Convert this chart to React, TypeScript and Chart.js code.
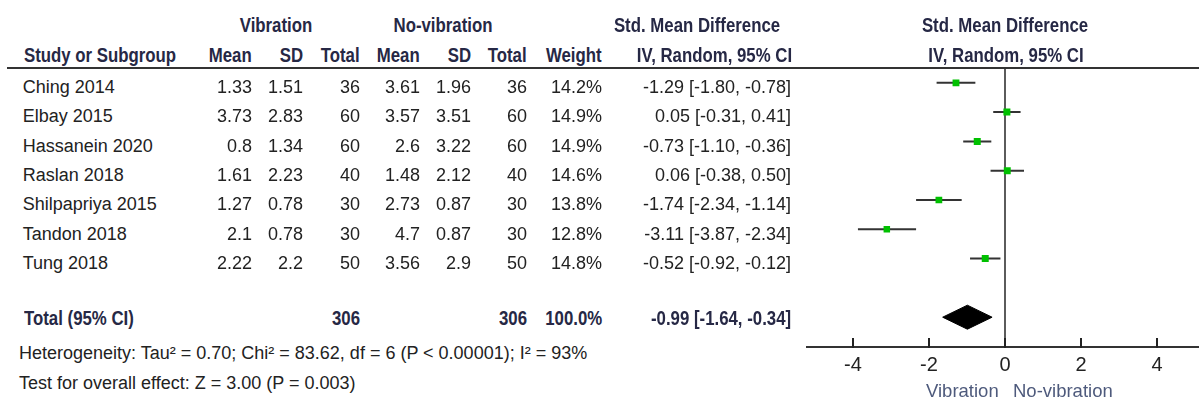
import React, { useEffect, useRef } from 'react';
import { Chart, registerables } from 'chart.js';

Chart.register(...registerables);

// ---------- data ----------
const studies = ['Ching 2014', 'Elbay 2015', 'Hassanein 2020', 'Raslan 2018', 'Shilpapriya 2015', 'Tandon 2018', 'Tung 2018'];
const vibMean = [1.33, 3.73, 0.8, 1.61, 1.27, 2.1, 2.22];
const vibSD = [1.51, 2.83, 1.34, 2.23, 0.78, 0.78, 2.2];
const vibTotal = [36, 60, 60, 40, 30, 30, 50];
const noMean = [3.61, 3.57, 2.6, 1.48, 2.73, 4.7, 3.56];
const noSD = [1.96, 3.51, 3.22, 2.12, 0.87, 0.87, 2.9];
const noTotal = [36, 60, 60, 40, 30, 30, 50];
const weights = [14.2, 14.9, 14.9, 14.6, 13.8, 12.8, 14.8];
const smd = [-1.29, 0.05, -0.73, 0.06, -1.74, -3.11, -0.52];
const ciLow = [-1.8, -0.31, -1.1, -0.38, -2.34, -3.87, -0.92];
const ciHigh = [-0.78, 0.41, -0.36, 0.5, -1.14, -2.34, -0.12];
const totalVib = 306;
const totalNo = 306;
const totalWeight = 100.0;
const totalSmd = -0.99;
const totalLow = -1.64;
const totalHigh = -0.34;
const heterogeneityText = 'Heterogeneity: Tau\u00B2 = 0.70; Chi\u00B2 = 83.62, df = 6 (P < 0.00001); I\u00B2 = 93%';
const overallText = 'Test for overall effect: Z = 3.00 (P = 0.003)';
const xTicks = [-4, -2, 0, 2, 4];

// ---------- layout ----------
const W = 1199;
const H = 401;
const PLOT_LEFT = 780;
const ZERO_PX = 1005;
const UNIT_PX = 38;
const AREA_LEFT = 807;
const AREA_TOP = 67.5;
const AXIS_Y = 347;
const ROW0 = 82.8;
const ROW_H = 29.3;
const TOTAL_ROW = 8;
const X_MIN = (AREA_LEFT - ZERO_PX) / UNIT_PX;
const X_MAX = (W - ZERO_PX) / UNIT_PX;
const Y_MIN = (AREA_TOP - ROW0) / ROW_H;
const Y_MAX = (AXIS_Y - ROW0) / ROW_H;
const DIAMOND_HALF = 12 / ROW_H;

const REG = "'Liberation Sans', Arial, sans-serif";
const TEXT = '#222222';
const HEAD = '#262845';
const LINE = '#333333';
const BOLD_SIZE = 21;
const BOLD_SCALE = 0.8;

type TP = { x: number; base: number; align?: 'left' | 'right' | 'center'; bold?: boolean; size?: number; color?: string; children: React.ReactNode };
function T({ x, base, align = 'left', bold = false, size, color, children }: TP) {
  const fs = size ?? (bold ? BOLD_SIZE : 18);
  const style: React.CSSProperties = {
    position: 'absolute',
    top: base - fs * 0.8465,
    fontSize: fs,
    lineHeight: `${fs}px`,
    fontFamily: REG,
    fontWeight: bold ? 700 : 400,
    color: color ?? (bold ? HEAD : TEXT),
    whiteSpace: 'nowrap',
  };
  const sx = bold ? ` scaleX(${BOLD_SCALE})` : '';
  if (align === 'left') {
    style.left = x;
    style.transformOrigin = 'left center';
    if (sx) style.transform = sx.trim();
  } else if (align === 'right') {
    style.right = W - x;
    style.transformOrigin = 'right center';
    if (sx) style.transform = sx.trim();
  } else {
    style.left = x;
    style.transformOrigin = 'center center';
    style.transform = 'translateX(-50%)' + sx;
  }
  return <div style={style}>{children}</div>;
}

const fmt = (v: number) => v.toFixed(2);
const ciText = (m: number, l: number, h: number) => `${fmt(m)} [${fmt(l)}, ${fmt(h)}]`;

// tick marks pointing up from the axis, placed with the x scale
const upTicks = {
  id: 'upTicks',
  afterDraw(chart: any) {
    const s = chart.scales.x;
    const ctx = chart.ctx;
    const y = s.top;
    ctx.save();
    ctx.fillStyle = '#222222';
    for (const v of xTicks) {
      const px = Math.round(s.getPixelForValue(v));
      ctx.fillRect(px - 1, y - 9, 2, 10);
    }
    ctx.restore();
  },
};

function ForestPlot() {
  const ref = useRef<HTMLCanvasElement | null>(null);
  useEffect(() => {
    if (!ref.current) return;
    const markerDs = {
      data: smd.map((v, i) => ({ x: v, y: i })),
      pointStyle: 'rect',
      pointRadius: weights.map((w) => (7 * Math.sqrt(w / 14.9)) / Math.SQRT2),
      backgroundColor: '#00c000',
      borderWidth: 0,
      showLine: false,
    };
    const ciDs = studies.map((_, i) => ({
      data: [
        { x: ciLow[i], y: i },
        { x: ciHigh[i], y: i },
      ],
      showLine: true,
      borderColor: LINE,
      borderWidth: 2,
      pointRadius: 0,
    }));
    const diamondDs = {
      data: [
        { x: totalLow, y: TOTAL_ROW },
        { x: totalSmd, y: TOTAL_ROW - DIAMOND_HALF },
        { x: totalHigh, y: TOTAL_ROW },
        { x: totalSmd, y: TOTAL_ROW + DIAMOND_HALF },
        { x: totalLow, y: TOTAL_ROW },
      ],
      showLine: true,
      fill: 'shape',
      backgroundColor: '#000000',
      borderColor: '#000000',
      borderWidth: 1,
      pointRadius: 0,
      tension: 0,
    };
    const zeroDs = {
      data: [
        { x: 0, y: Y_MIN },
        { x: 0, y: Y_MAX },
      ],
      showLine: true,
      borderColor: LINE,
      borderWidth: 1.6,
      pointRadius: 0,
    };
    const chart = new Chart(ref.current, {
      type: 'scatter',
      data: { datasets: [markerDs, ...ciDs, diamondDs, zeroDs] as any },
      options: {
        animation: false,
        responsive: false,
        events: [],
        layout: { autoPadding: false, padding: { left: AREA_LEFT - PLOT_LEFT, top: AREA_TOP, right: 0, bottom: 0 } },
        plugins: { legend: { display: false }, tooltip: { enabled: false } },
        scales: {
          x: {
            type: 'linear',
            min: X_MIN,
            max: X_MAX,
            afterBuildTicks: (s: any) => {
              s.ticks = xTicks.map((v) => ({ value: v }));
            },
            afterFit: (s: any) => {
              s.height = H - AXIS_Y;
            },
            grid: { display: false, drawOnChartArea: false, drawTicks: false },
            border: { display: true, color: LINE, width: 2 },
            ticks: {
              padding: 6.5,
              color: TEXT,
              autoSkip: false,
              maxRotation: 0,
              font: { family: REG, size: 20 },
              callback: (v: any) => String(v),
            },
          },
          y: { type: 'linear', display: false, reverse: true, min: Y_MIN, max: Y_MAX },
        },
      } as any,
      plugins: [upTicks],
    });
    return () => chart.destroy();
  }, []);
  return (
    <canvas
      ref={ref}
      width={W - PLOT_LEFT}
      height={H}
      style={{ position: 'absolute', left: PLOT_LEFT, top: 0, width: W - PLOT_LEFT, height: H }}
    />
  );
}

export default function App() {
  const cols = [252, 303, 360, 420, 471, 527, 602];
  const CI_RIGHT = 791;
  const rowBase = (i: number) => 93.3 + ROW_H * i;
  return (
    <div style={{ position: 'absolute', left: 0, top: 0, width: W, height: H, background: '#fff', overflow: 'hidden' }}>
      <div style={{ position: 'absolute', left: 7, top: 66.7, width: W - 7, height: 2, background: LINE }} />
      <ForestPlot />
      <T x={276} base={31.5} align="center" bold>Vibration</T>
      <T x={443} base={31.5} align="center" bold>No-vibration</T>
      <T x={697} base={31.5} align="center" bold>Std. Mean Difference</T>
      <T x={1005} base={31.5} align="center" bold>Std. Mean Difference</T>
      <T x={24} base={62} bold>Study or Subgroup</T>
      <T x={cols[0]} base={62} align="right" bold>Mean</T>
      <T x={cols[1]} base={62} align="right" bold>SD</T>
      <T x={cols[2]} base={62} align="right" bold>Total</T>
      <T x={cols[3]} base={62} align="right" bold>Mean</T>
      <T x={cols[4]} base={62} align="right" bold>SD</T>
      <T x={cols[5]} base={62} align="right" bold>Total</T>
      <T x={cols[6]} base={62} align="right" bold>Weight</T>
      <T x={CI_RIGHT + 1} base={62} align="right" bold>IV, Random, 95% CI</T>
      <T x={1006} base={62} align="center" bold>IV, Random, 95% CI</T>
      {studies.map((s, i) => (
        <React.Fragment key={s}>
          <T x={22.7} base={rowBase(i)}>{s}</T>
          <T x={cols[0]} base={rowBase(i)} align="right">{String(vibMean[i])}</T>
          <T x={cols[1]} base={rowBase(i)} align="right">{String(vibSD[i])}</T>
          <T x={cols[2]} base={rowBase(i)} align="right">{String(vibTotal[i])}</T>
          <T x={cols[3]} base={rowBase(i)} align="right">{String(noMean[i])}</T>
          <T x={cols[4]} base={rowBase(i)} align="right">{String(noSD[i])}</T>
          <T x={cols[5]} base={rowBase(i)} align="right">{String(noTotal[i])}</T>
          <T x={cols[6]} base={rowBase(i)} align="right">{weights[i].toFixed(1) + '%'}</T>
          <T x={CI_RIGHT} base={rowBase(i)} align="right">{ciText(smd[i], ciLow[i], ciHigh[i])}</T>
        </React.Fragment>
      ))}
      <T x={24} base={325} bold>Total (95% CI)</T>
      <T x={cols[2]} base={325} align="right" bold>{String(totalVib)}</T>
      <T x={cols[5]} base={325} align="right" bold>{String(totalNo)}</T>
      <T x={cols[6]} base={325} align="right" bold>{totalWeight.toFixed(1) + '%'}</T>
      <T x={CI_RIGHT} base={325} align="right" bold>{ciText(totalSmd, totalLow, totalHigh)}</T>
      <T x={19} base={359}>{heterogeneityText}</T>
      <T x={19} base={389.5}>{overallText}</T>
      <T x={926} base={397.5} size={18.5} color="#4e5a7c">Vibration</T>
      <T x={1013} base={397.5} size={18.5} color="#4e5a7c">No-vibration</T>
    </div>
  );
}
